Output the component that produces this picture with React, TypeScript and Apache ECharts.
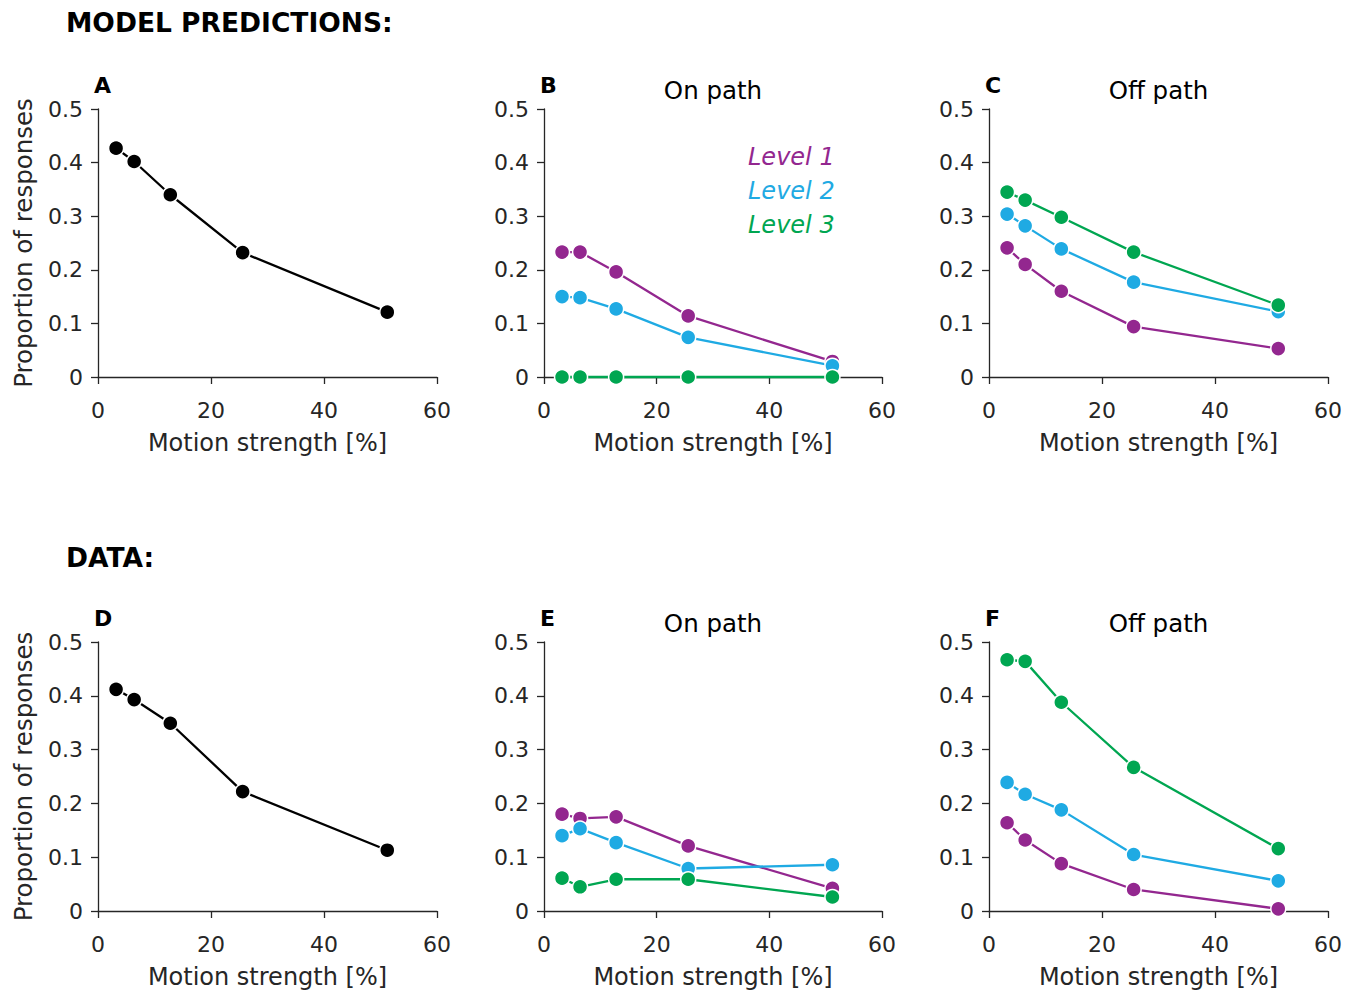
import React, { useEffect, useRef } from "react";
import * as echarts from "echarts";

const motionStrength = [3.2, 6.4, 12.8, 25.6, 51.2];
const xTicks = [0, 20, 40, 60];
const yTicks = [0, 0.1, 0.2, 0.3, 0.4, 0.5];

const modelAll = [0.427, 0.402, 0.340, 0.232, 0.121];
const modelOnL1 = [0.233, 0.233, 0.196, 0.114, 0.029];
const modelOnL2 = [0.150, 0.148, 0.127, 0.074, 0.021];
const modelOnL3 = [0, 0, 0, 0, 0];
const modelOffL1 = [0.241, 0.210, 0.160, 0.094, 0.053];
const modelOffL2 = [0.304, 0.282, 0.239, 0.177, 0.122];
const modelOffL3 = [0.345, 0.330, 0.298, 0.233, 0.134];

const dataAll = [0.412, 0.393, 0.349, 0.222, 0.113];
const dataOnL1 = [0.180, 0.172, 0.175, 0.121, 0.042];
const dataOnL2 = [0.140, 0.153, 0.127, 0.079, 0.086];
const dataOnL3 = [0.061, 0.045, 0.059, 0.059, 0.026];
const dataOffL1 = [0.164, 0.132, 0.088, 0.040, 0.004];
const dataOffL2 = [0.239, 0.217, 0.188, 0.105, 0.056];
const dataOffL3 = [0.467, 0.464, 0.388, 0.267, 0.116];

const levelNames = ["Level 1", "Level 2", "Level 3"];
const panelLetters = ["A", "B", "C", "D", "E", "F"];
const panelTitles = ["", "On path", "Off path", "", "On path", "Off path"];
const sectionTitles = ["MODEL PREDICTIONS:", "DATA:"];
const xName = "Motion strength [%]";
const yName = "Proportion of responses";

const COLORS = ["#93278F", "#1FAAE3", "#00A651"];
const BLACK = "#000000";
const AXIS = "#262626";
const FONT = "DejaVu Sans";

const gridRects = [
  { left: 98, top: 109, width: 339, height: 268 },
  { left: 544, top: 109, width: 338, height: 268 },
  { left: 989, top: 109, width: 339, height: 268 },
  { left: 98, top: 642, width: 339, height: 269 },
  { left: 544, top: 642, width: 338, height: 269 },
  { left: 989, top: 642, width: 339, height: 269 },
];

const panelSeries: { name: string; values: number[]; color: string }[][] = [
  [{ name: "All", values: modelAll, color: BLACK }],
  [
    { name: levelNames[0], values: modelOnL1, color: COLORS[0] },
    { name: levelNames[1], values: modelOnL2, color: COLORS[1] },
    { name: levelNames[2], values: modelOnL3, color: COLORS[2] },
  ],
  [
    { name: levelNames[0], values: modelOffL1, color: COLORS[0] },
    { name: levelNames[1], values: modelOffL2, color: COLORS[1] },
    { name: levelNames[2], values: modelOffL3, color: COLORS[2] },
  ],
  [{ name: "All", values: dataAll, color: BLACK }],
  [
    { name: levelNames[0], values: dataOnL1, color: COLORS[0] },
    { name: levelNames[1], values: dataOnL2, color: COLORS[1] },
    { name: levelNames[2], values: dataOnL3, color: COLORS[2] },
  ],
  [
    { name: levelNames[0], values: dataOffL1, color: COLORS[0] },
    { name: levelNames[1], values: dataOffL2, color: COLORS[1] },
    { name: levelNames[2], values: dataOffL3, color: COLORS[2] },
  ],
];

function buildOption() {
  const grid: any[] = [];
  const xAxis: any[] = [];
  const yAxis: any[] = [];
  const series: any[] = [];
  const graphic: any[] = [];

  gridRects.forEach((r, i) => {
    grid.push({ ...r, containLabel: false });
    xAxis.push({
      type: "value",
      gridIndex: i,
      min: xTicks[0],
      max: xTicks[xTicks.length - 1],
      interval: xTicks[1] - xTicks[0],
      name: xName,
      nameLocation: "middle",
      nameGap: 54,
      nameTextStyle: { fontFamily: FONT, fontSize: 24, color: AXIS },
      axisLine: { show: true, onZero: false, lineStyle: { color: AXIS, width: 1.3 } },
      axisTick: { show: true, inside: false, length: 7, lineStyle: { color: AXIS, width: 1.3 } },
      axisLabel: { margin: 22, fontFamily: FONT, fontSize: 22, color: AXIS },
      splitLine: { show: false },
    });
    const showYName = i % 3 === 0;
    yAxis.push({
      type: "value",
      gridIndex: i,
      min: yTicks[0],
      max: yTicks[yTicks.length - 1],
      interval: yTicks[1] - yTicks[0],
      name: showYName ? yName : "",
      nameLocation: "middle",
      nameGap: 62,
      nameTextStyle: { fontFamily: FONT, fontSize: 24.5, color: AXIS },
      axisLine: { show: true, onZero: false, lineStyle: { color: AXIS, width: 1.3 } },
      axisTick: { show: true, inside: false, length: 7, lineStyle: { color: AXIS, width: 1.3 } },
      axisLabel: {
        margin: 15,
        fontFamily: FONT,
        fontSize: 22,
        color: AXIS,
        formatter: (v: number) => (v === 0 ? "0" : v.toFixed(1)),
      },
      splitLine: { show: false },
    });

    panelSeries[i].forEach((s) => {
      series.push({
        type: "line",
        name: s.name,
        xAxisIndex: i,
        yAxisIndex: i,
        data: motionStrength.map((x, k) => [x, s.values[k]]),
        clip: false,
        symbol: "circle",
        symbolSize: 15,
        lineStyle: { color: s.color, width: 2.3 },
        itemStyle: { color: s.color, borderColor: "#ffffff", borderWidth: 1.5 },
        emphasis: { disabled: true },
        z: 2,
      });
    });

    graphic.push({
      type: "text",
      left: r.left - 4,
      top: r.top - 35,
      style: {
        text: panelLetters[i],
        fontFamily: FONT,
        fontWeight: "bold",
        fontSize: 22,
        fill: "#000",
      },
    });
    if (panelTitles[i]) {
      graphic.push({
        type: "text",
        x: r.left + r.width / 2,
        y: r.top - 19,
        style: {
          text: panelTitles[i],
          fontFamily: FONT,
          fontSize: 24.5,
          fill: "#000",
          align: "center",
          verticalAlign: "middle",
        },
      });
    }
  });

  graphic.push({
    type: "text",
    left: 66,
    top: 9,
    style: { text: sectionTitles[0], fontFamily: FONT, fontWeight: "bold", fontSize: 26.5, fill: "#000" },
  });
  graphic.push({
    type: "text",
    left: 66,
    top: 544,
    style: { text: sectionTitles[1], fontFamily: FONT, fontWeight: "bold", fontSize: 26.5, fill: "#000" },
  });

  levelNames.forEach((n, k) => {
    graphic.push({
      type: "text",
      x: 748,
      y: 157 + k * 34,
      style: {
        text: n,
        fontFamily: FONT,
        fontStyle: "italic",
        fontSize: 24,
        fill: COLORS[k],
        verticalAlign: "middle",
      },
    });
  });

  return {
    animation: false,
    backgroundColor: "#ffffff",
    textStyle: { fontFamily: FONT },
    grid,
    xAxis,
    yAxis,
    series,
    graphic,
  };
}

export default function App() {
  const ref = useRef<HTMLDivElement>(null);
  useEffect(() => {
    if (!ref.current) return;
    const chart = echarts.init(ref.current, undefined, { renderer: "svg" });
    chart.setOption(buildOption() as any);
    return () => chart.dispose();
  }, []);
  return (
    <div
      ref={ref}
      style={{ position: "absolute", left: 0, top: 0, width: 1356, height: 991 }}
    />
  );
}
